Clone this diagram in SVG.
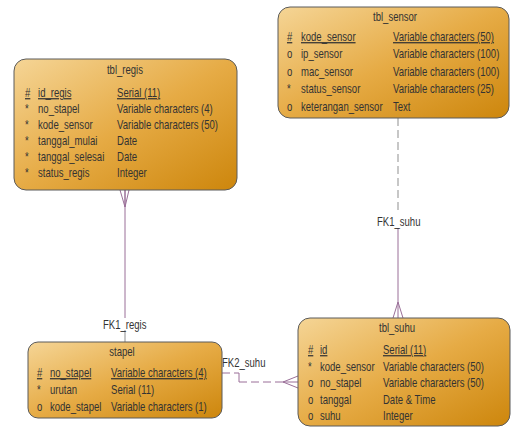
<svg xmlns="http://www.w3.org/2000/svg" width="513" height="428" viewBox="0 0 513 428">
<defs>
<linearGradient id="g" x1="0" y1="0" x2="1" y2="1">
<stop offset="0" stop-color="#f5d596"/>
<stop offset="0.5" stop-color="#e6ab45"/>
<stop offset="1" stop-color="#cd860c"/>
</linearGradient>
</defs>
<style>
.box{fill:url(#g);stroke:#5a5a5a;stroke-width:1}
text{font-family:"Liberation Sans",Arial,sans-serif;font-size:12.4px;fill:#333}
.t{text-anchor:middle}
.u{text-decoration:underline}
.rel{fill:none;stroke:#9a6f98;stroke-width:1}
.dash{fill:none;stroke:#9a6f98;stroke-width:1;stroke-dasharray:8,4}
.gray{stroke:#8f8f8f}
</style>
<rect width="513" height="428" fill="#ffffff"/>
<g id="connectors">
<line class="rel" x1="125" y1="190" x2="125" y2="318"/>
<line class="rel gray" x1="125" y1="330" x2="125" y2="342"/>
<polyline class="rel" points="120,190 125,207 129,190"/>
<line class="rel" x1="125" y1="190" x2="125" y2="207"/>
<line class="dash gray" x1="398" y1="118" x2="398" y2="212"/>
<line class="rel" x1="398" y1="228" x2="398" y2="318"/>
<polyline class="rel" points="393,318 398,302 403,318"/>
<polyline class="dash" points="222,373 239,373"/>
<line class="rel" x1="239" y1="373" x2="239" y2="382"/>
<line class="dash" x1="239" y1="382" x2="283" y2="382"/>
<polyline class="rel" points="298,376 283,382 298,388"/>
<line class="rel" x1="283" y1="382" x2="298" y2="382"/>
<g transform="scale(0.77,1)">
<text x="133.8" y="329">FK1_regis</text>
<text x="489.6" y="226">FK1_suhu</text>
<text x="288.3" y="367">FK2_suhu</text>
</g>
</g>
<g id="tbl_regis">
<rect class="box" x="14" y="59" width="223" height="131" rx="12"/>
<g transform="scale(0.77,1)">
<text class="t" x="162.3" y="74">tbl_regis</text>
<text class="u" x="32.5" y="97">#</text><text class="u" x="49.4" y="97">id_regis</text><text class="u" x="152" y="97">Serial (11)</text>
<text x="32.5" y="113">*</text><text x="49.4" y="113">no_stapel</text><text x="152" y="113">Variable characters (4)</text>
<text x="32.5" y="129">*</text><text x="49.4" y="129">kode_sensor</text><text x="152" y="129">Variable characters (50)</text>
<text x="32.5" y="145">*</text><text x="49.4" y="145">tanggal_mulai</text><text x="152" y="145">Date</text>
<text x="32.5" y="161">*</text><text x="49.4" y="161">tanggal_selesai</text><text x="152" y="161">Date</text>
<text x="32.5" y="177">*</text><text x="49.4" y="177">status_regis</text><text x="152" y="177">Integer</text>
</g>
</g>
<g id="tbl_sensor">
<rect class="box" x="278" y="7" width="231" height="111" rx="12"/>
<g transform="scale(0.77,1)">
<text class="t" x="513" y="21">tbl_sensor</text>
<text class="u" x="372.7" y="41">#</text><text class="u" x="390.9" y="41">kode_sensor</text><text class="u" x="510.4" y="41">Variable characters (50)</text>
<text x="372.7" y="58.5">o</text><text x="390.9" y="58.5">ip_sensor</text><text x="510.4" y="58.5">Variable characters (100)</text>
<text x="372.7" y="76">o</text><text x="390.9" y="76">mac_sensor</text><text x="510.4" y="76">Variable characters (100)</text>
<text x="372.7" y="93.5">*</text><text x="390.9" y="93.5">status_sensor</text><text x="510.4" y="93.5">Variable characters (25)</text>
<text x="372.7" y="111">o</text><text x="390.9" y="111">keterangan_sensor</text><text x="510.4" y="111">Text</text>
</g>
</g>
<g id="stapel">
<rect class="box" x="28" y="342" width="194" height="76" rx="10"/>
<g transform="scale(0.77,1)">
<text class="t" x="158.4" y="356">stapel</text>
<text class="u" x="48" y="377">#</text><text class="u" x="64.9" y="377">no_stapel</text><text class="u" x="144.2" y="377">Variable characters (4)</text>
<text x="48" y="394">*</text><text x="64.9" y="394">urutan</text><text x="144.2" y="394">Serial (11)</text>
<text x="48" y="411">o</text><text x="64.9" y="411">kode_stapel</text><text x="144.2" y="411">Variable characters (1)</text>
</g>
</g>
<g id="tbl_suhu">
<rect class="box" x="298" y="318" width="212" height="108" rx="12"/>
<g transform="scale(0.77,1)">
<text class="t" x="515.6" y="332">tbl_suhu</text>
<text class="u" x="400" y="354">#</text><text class="u" x="415.6" y="354">id</text><text class="u" x="497.4" y="354">Serial (11)</text>
<text x="400" y="371">*</text><text x="415.6" y="371">kode_sensor</text><text x="497.4" y="371">Variable characters (50)</text>
<text x="400" y="387">o</text><text x="415.6" y="387">no_stapel</text><text x="497.4" y="387">Variable characters (50)</text>
<text x="400" y="404">o</text><text x="415.6" y="404">tanggal</text><text x="497.4" y="404">Date &amp; Time</text>
<text x="400" y="420">o</text><text x="415.6" y="420">suhu</text><text x="497.4" y="420">Integer</text>
</g>
</g>
</svg>
